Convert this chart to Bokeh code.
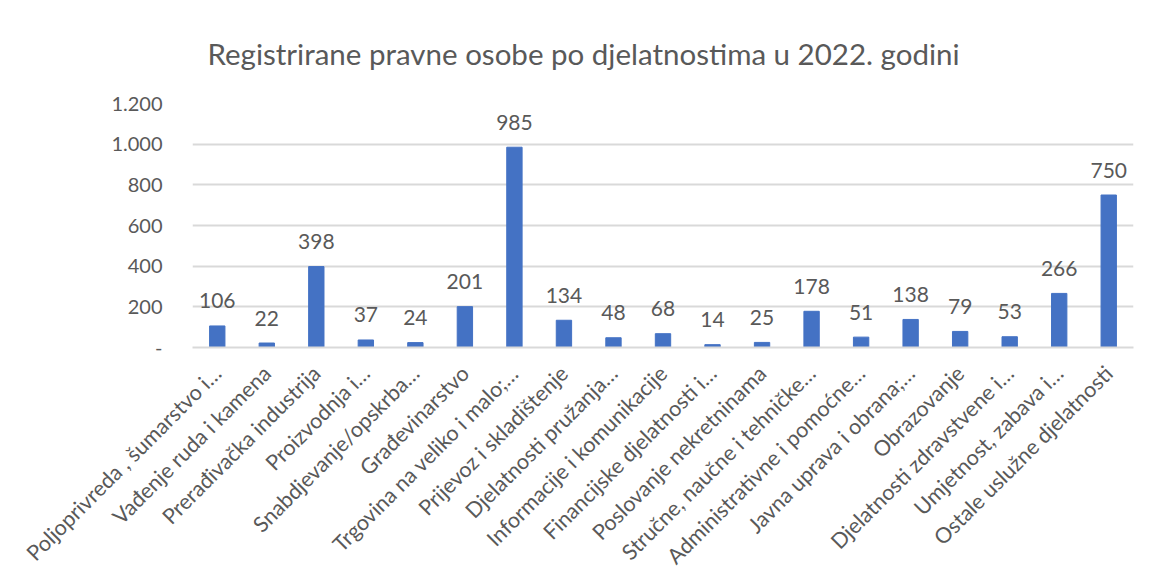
from bokeh.plotting import figure
from bokeh.models import ColumnDataSource, LabelSet, FixedTicker
from bokeh.core.properties import value
from bokeh.embed import file_html
from bokeh.resources import INLINE
from math import pi

categories = [
    "Poljoprivreda , šumarstvo i…",
    "Vađenje ruda i kamena",
    "Prerađivačka industrija",
    "Proizvodnja i…",
    "Snabdjevanje/opskrba…",
    "Građevinarstvo",
    "Trgovina na veliko i malo;…",
    "Prijevoz i skladištenje",
    "Djelatnosti pružanja…",
    "Informacije i komunikacije",
    "Financijske djelatnosti i…",
    "Poslovanje nekretninama",
    "Stručne, naučne i tehničke…",
    "Administrativne i pomoćne…",
    "Javna uprava i obrana;…",
    "Obrazovanje",
    "Djelatnosti zdravstvene i…",
    "Umjetnost, zabava i…",
    "Ostale uslužne djelatnosti",
]
values = [106, 22, 398, 37, 24, 201, 985, 134, 48, 68, 14, 25, 178, 51, 138, 79, 53, 266, 750]
y_ticks = [0, 200, 400, 600, 800, 1000, 1200]
y_tick_labels = ["-", "200", "400", "600", "800", "1.000", "1.200"]
title_text = "Registrirane pravne osobe po djelatnostima u 2022. godini"

FONT = "Lato"
GREY = "#595959"

source = ColumnDataSource(dict(cat=categories, val=values, lab=[str(v) for v in values]))

p = figure(
    x_range=categories, y_range=(0, 1200),
    width=1140, height=583,
    output_backend="svg", toolbar_location=None,
    min_border_left=192, min_border_right=7, min_border_top=103, min_border_bottom=236,
)
p.outline_line_color = None

p.title.text = title_text
p.title.align = "left"
p.title.offset = 15
p.title.standoff = 66
p.title.text_font = FONT
p.title.text_font_size = "29.5px"
p.title.text_font_style = "normal"
p.title.text_color = GREY

p.vbar(x="cat", top="val", width=0.31, source=source, color="#4472c4")

labels = LabelSet(x="cat", y="val", text="lab", source=source, y_offset=25,
                  text_align="center", text_baseline="middle",
                  text_font=value(FONT), text_font_size=value("21px"), text_color=value(GREY))
p.add_layout(labels)

p.yaxis.ticker = FixedTicker(ticks=y_ticks)
p.yaxis.major_label_overrides = {t: l for t, l in zip(y_ticks, y_tick_labels)}
p.yaxis.axis_line_color = None
p.yaxis.major_tick_line_color = None
p.yaxis.minor_tick_line_color = None
p.yaxis.major_label_standoff = 24
p.yaxis.major_label_text_font = FONT
p.yaxis.major_label_text_font_size = "20px"
p.yaxis.major_label_text_color = GREY

p.xaxis.axis_line_color = "#d9d9d9"
p.xaxis.axis_line_width = 2
p.xaxis.major_tick_line_color = None
p.xaxis.minor_tick_line_color = None
p.xaxis.major_label_orientation = pi / 4
p.xaxis.major_label_standoff = 16
p.xaxis.major_label_text_font = FONT
p.xaxis.major_label_text_font_size = "21.5px"
p.xaxis.major_label_text_color = GREY

p.xgrid.grid_line_color = None
p.ygrid.grid_line_color = "#d9d9d9"
p.ygrid.grid_line_width = 2
p.ygrid.ticker = FixedTicker(ticks=y_ticks)

open("out.html", "w").write(file_html(p, INLINE))
